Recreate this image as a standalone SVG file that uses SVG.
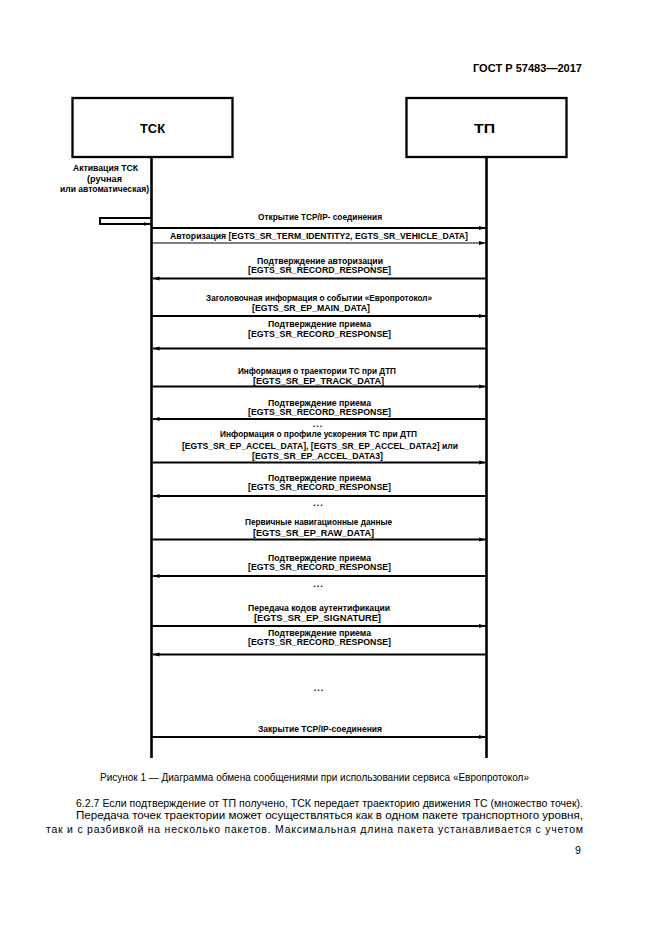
<svg xmlns="http://www.w3.org/2000/svg" width="661" height="935" viewBox="0 0 661 935">
<defs>
<style>
.t{font-family:"Liberation Sans",Arial,sans-serif;fill:#000}
.m{font-size:8.3px;font-weight:bold;text-anchor:start}
.d{font-size:9px;font-weight:bold;letter-spacing:1px;text-anchor:middle}
.b{font-size:10.5px}
.box{fill:#fff;stroke:#000;stroke-width:2.3}
.ll{stroke:#000;stroke-width:2.6;fill:none}
.ln{stroke:#000;stroke-width:1.8;fill:none;marker-end:url(#ah)}
.thin{stroke-width:1.1}
</style>
<marker id="ah" markerUnits="userSpaceOnUse" markerWidth="7" markerHeight="5" refX="6.5" refY="2.5" orient="auto">
<path d="M0,0.6 L6.5,2.5 L0,4.4 z" fill="#000"/>
</marker>
</defs>
<rect width="661" height="935" fill="#fff"/>

<text class="t" x="473" y="72" font-size="11" font-weight="bold" textLength="109" lengthAdjust="spacingAndGlyphs">ГОСТ Р 57483—2017</text>

<g id="node-tsk">
<rect class="box" x="72.5" y="98" width="160" height="59"/>
<text class="t" x="140" y="133" font-size="13.5" font-weight="bold" textLength="25" lengthAdjust="spacingAndGlyphs">ТСК</text>
</g>
<g id="node-tp">
<rect class="box" x="406.5" y="98" width="160" height="59"/>
<text class="t" x="474" y="133" font-size="13.5" font-weight="bold" textLength="21" lengthAdjust="spacingAndGlyphs">ТП</text>
</g>

<g id="lifelines">
<line class="ll" x1="151.5" y1="157" x2="151.5" y2="758"/>
<line class="ll" x1="486.5" y1="157" x2="486.5" y2="758"/>
</g>

<g id="activation">
<text class="t m" x="73" y="171" textLength="65" lengthAdjust="spacingAndGlyphs">Активация ТСК</text>
<text class="t m" x="87" y="182" textLength="35" lengthAdjust="spacingAndGlyphs">(ручная</text>
<text class="t m" x="60" y="192" textLength="89" lengthAdjust="spacingAndGlyphs">или автоматическая)</text>
</g>

<g id="connectors">
<path d="M150.5,218 H100 V224 H150" stroke="#000" stroke-width="2" fill="none" marker-end="url(#ah)"/>
<line class="ln" x1="152" y1="228" x2="485.5" y2="228"/>
<line class="ln thin" x1="152" y1="243" x2="485.5" y2="243"/>
<line class="ln" x1="485.5" y1="278.5" x2="153" y2="278.5"/>
<line class="ln" x1="152" y1="316" x2="485.5" y2="316"/>
<line class="ln" x1="485.5" y1="348.5" x2="153" y2="348.5"/>
<line class="ln" x1="152" y1="386.5" x2="485.5" y2="386.5"/>
<line class="ln" x1="485.5" y1="419" x2="153" y2="419"/>
<line class="ln" x1="152" y1="462.5" x2="485.5" y2="462.5"/>
<line class="ln" x1="485.5" y1="496" x2="153" y2="496"/>
<line class="ln" x1="152" y1="539.5" x2="485.5" y2="539.5"/>
<line class="ln" x1="485.5" y1="576" x2="153" y2="576"/>
<line class="ln" x1="152" y1="626" x2="485.5" y2="626"/>
<line class="ln" x1="485.5" y1="654.5" x2="153" y2="654.5"/>
<line class="ln" x1="152" y1="737" x2="485.5" y2="737"/>
</g>

<g id="labels">
<text class="t m" x="258" y="219.5" textLength="124" lengthAdjust="spacingAndGlyphs">Открытие TCP/IP- соединения</text>
<text class="t m" x="170" y="239" textLength="298" lengthAdjust="spacingAndGlyphs">Авторизация [EGTS_SR_TERM_IDENTITY2, EGTS_SR_VEHICLE_DATA]</text>

<text class="t m" x="257" y="263.5" textLength="126" lengthAdjust="spacingAndGlyphs">Подтверждение авторизации</text>
<text class="t m" x="248" y="273" textLength="143" lengthAdjust="spacingAndGlyphs">[EGTS_SR_RECORD_RESPONSE]</text>

<text class="t m" x="206" y="301" textLength="226" lengthAdjust="spacingAndGlyphs">Заголовочная информация о событии «Европротокол»</text>
<text class="t m" x="252" y="311" textLength="118" lengthAdjust="spacingAndGlyphs">[EGTS_SR_EP_MAIN_DATA]</text>

<text class="t m" x="268" y="327" textLength="103" lengthAdjust="spacingAndGlyphs">Подтверждение приема</text>
<text class="t m" x="248" y="337" textLength="143" lengthAdjust="spacingAndGlyphs">[EGTS_SR_RECORD_RESPONSE]</text>

<text class="t m" x="238" y="374" textLength="158" lengthAdjust="spacingAndGlyphs">Информация о траектории ТС при ДТП</text>
<text class="t m" x="253" y="383.5" textLength="131" lengthAdjust="spacingAndGlyphs">[EGTS_SR_EP_TRACK_DATA]</text>

<text class="t m" x="268" y="405.5" textLength="103" lengthAdjust="spacingAndGlyphs">Подтверждение приема</text>
<text class="t m" x="248" y="414.5" textLength="143" lengthAdjust="spacingAndGlyphs">[EGTS_SR_RECORD_RESPONSE]</text>

<text class="t d" x="318" y="427">...</text>
<text class="t m" x="220" y="437" textLength="197" lengthAdjust="spacingAndGlyphs">Информация о профиле ускорения ТС при ДТП</text>
<text class="t m" x="182" y="448.5" textLength="276" lengthAdjust="spacingAndGlyphs">[EGTS_SR_EP_ACCEL_DATA], [EGTS_SR_EP_ACCEL_DATA2] или</text>
<text class="t m" x="252" y="458.5" textLength="131" lengthAdjust="spacingAndGlyphs">[EGTS_SR_EP_ACCEL_DATA3]</text>

<text class="t m" x="268" y="481" textLength="103" lengthAdjust="spacingAndGlyphs">Подтверждение приема</text>
<text class="t m" x="248" y="490" textLength="143" lengthAdjust="spacingAndGlyphs">[EGTS_SR_RECORD_RESPONSE]</text>

<text class="t d" x="318.5" y="506">...</text>
<text class="t m" x="245" y="525" textLength="147" lengthAdjust="spacingAndGlyphs">Первичные навигационные данные</text>
<text class="t m" x="253" y="535.5" textLength="121" lengthAdjust="spacingAndGlyphs">[EGTS_SR_EP_RAW_DATA]</text>

<text class="t m" x="268" y="560.5" textLength="103" lengthAdjust="spacingAndGlyphs">Подтверждение приема</text>
<text class="t m" x="248" y="569.5" textLength="143" lengthAdjust="spacingAndGlyphs">[EGTS_SR_RECORD_RESPONSE]</text>

<text class="t d" x="318.5" y="587">...</text>
<text class="t m" x="248" y="610.5" textLength="142" lengthAdjust="spacingAndGlyphs">Передача кодов аутентификации</text>
<text class="t m" x="254" y="621" textLength="127" lengthAdjust="spacingAndGlyphs">[EGTS_SR_EP_SIGNATURE]</text>

<text class="t m" x="268" y="635.5" textLength="103" lengthAdjust="spacingAndGlyphs">Подтверждение приема</text>
<text class="t m" x="248" y="645" textLength="143" lengthAdjust="spacingAndGlyphs">[EGTS_SR_RECORD_RESPONSE]</text>

<text class="t d" x="319" y="691">...</text>
<text class="t m" x="258" y="732" textLength="124" lengthAdjust="spacingAndGlyphs">Закрытие TCP/IP-соединения</text>
</g>

<g id="page-text">
<text class="t b" x="100" y="781" font-size="9.5" textLength="429" lengthAdjust="spacingAndGlyphs">Рисунок 1 — Диаграмма обмена сообщениями при использовании сервиса «Европротокол»</text>
<text class="t b" x="76" y="807" textLength="507" lengthAdjust="spacingAndGlyphs">6.2.7 Если подтверждение от ТП получено, ТСК передает траекторию движения ТС (множество точек).</text>
<text class="t b" x="76" y="819" textLength="507" lengthAdjust="spacingAndGlyphs">Передача точек траектории может осуществляться как в одном пакете транспортного уровня,</text>
<text class="t b" x="46" y="833" textLength="537" lengthAdjust="spacing">так и с разбивкой на несколько пакетов. Максимальная длина пакета устанавливается с учетом</text>
<text class="t b" x="575" y="854">9</text>
</g>
</svg>
